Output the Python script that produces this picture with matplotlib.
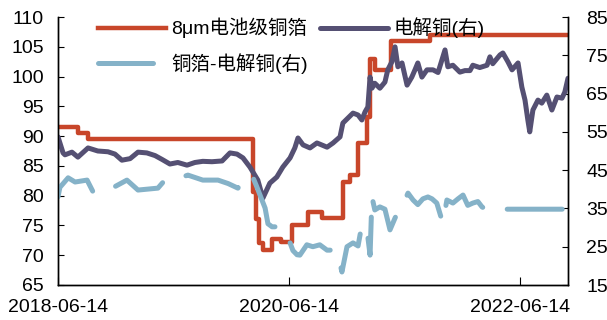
import matplotlib
matplotlib.use("Agg")
import matplotlib.pyplot as plt
import matplotlib.dates as mdates
import pandas as pd

plt.rcParams['font.family'] = ['Liberation Sans', 'Noto Sans CJK SC', 'DejaVu Sans']
plt.rcParams['font.size'] = 14

# 8um battery copper foil (left axis), step series
foil_dates = ["2018-06-14", "2018-08-16", "2018-09-17", "2020-02-21", "2020-03-01",
              "2020-03-11", "2020-03-23", "2020-04-21", "2020-05-19", "2020-06-23",
              "2020-08-12", "2020-09-26", "2020-12-01", "2020-12-23", "2021-01-18",
              "2021-02-15", "2021-02-25", "2021-03-12", "2021-05-02", "2021-09-02",
              "2022-11-13"]
foil_vals = [91.5, 90.5, 89.5, 80.6, 76.0,
             72.0, 70.8, 72.8, 72.2, 75.0,
             77.2, 76.3, 82.3, 83.5, 88.9,
             93.2, 103.0, 101.1, 106.0, 107.0,
             107.0]

# electrolytic copper (right axis)
cu_dates = ["2018-06-14", "2018-06-30", "2018-07-06", "2018-07-28", "2018-08-16",
            "2018-09-17", "2018-10-18", "2018-11-19", "2018-12-11", "2019-01-02",
            "2019-01-28", "2019-02-22", "2019-03-22", "2019-04-17", "2019-05-09",
            "2019-06-03", "2019-06-28", "2019-07-27", "2019-08-21", "2019-09-15",
            "2019-10-14", "2019-11-15", "2019-12-10", "2020-01-01", "2020-01-20",
            "2020-02-11", "2020-03-07", "2020-03-23", "2020-04-14", "2020-05-06",
            "2020-05-25", "2020-06-17", "2020-07-02", "2020-07-12", "2020-07-28",
            "2020-08-19", "2020-09-10", "2020-10-12", "2020-10-31", "2020-11-22",
            "2020-12-01", "2020-12-17", "2021-01-02", "2021-01-18", "2021-01-30",
            "2021-02-09", "2021-02-18", "2021-02-25", "2021-03-03", "2021-03-12",
            "2021-03-28", "2021-04-13", "2021-04-22", "2021-05-05", "2021-05-15",
            "2021-05-24", "2021-06-06", "2021-06-22", "2021-07-07", "2021-07-17",
            "2021-07-26", "2021-08-08", "2021-08-24", "2021-09-12", "2021-09-28",
            "2021-10-20", "2021-10-29", "2021-11-14", "2021-12-06", "2021-12-22",
            "2022-01-07", "2022-01-16", "2022-02-07", "2022-03-02", "2022-03-11",
            "2022-03-20", "2022-04-12", "2022-04-21", "2022-05-07", "2022-05-20",
            "2022-06-08", "2022-06-20", "2022-06-30", "2022-07-09", "2022-07-15",
            "2022-07-25", "2022-08-10", "2022-08-22", "2022-09-07", "2022-09-23",
            "2022-10-09", "2022-10-25", "2022-11-03", "2022-11-13"]
cu_vals = [53.7, 49.5, 49.0, 49.7, 48.4,
           50.8, 50.0, 49.8, 49.2, 47.6,
           48.0, 49.7, 49.5, 48.8, 47.8,
           46.6, 47.0, 46.3, 47.0, 47.3,
           47.2, 47.4, 49.5, 49.2, 48.2,
           45.8, 42.4, 37.7, 41.6, 43.2,
           45.8, 48.2, 50.8, 53.4, 51.6,
           50.8, 52.1, 51.0, 52.1, 53.7,
           57.3, 58.6, 59.9, 59.4, 58.1,
           60.2, 61.5, 69.3, 66.4, 67.7,
           66.4, 68.0, 71.2, 73.3, 77.2,
           72.0, 73.0, 67.2, 69.3, 71.2,
           73.0, 69.3, 71.2, 71.2, 70.5,
           76.4, 72.0, 72.4, 70.6, 71.0,
           71.0, 72.4, 71.8, 72.4, 74.6,
           72.8, 75.1, 75.6, 73.3, 71.2,
           73.0, 66.7, 63.3, 58.1, 55.0,
           60.7, 63.3, 62.5, 64.6, 60.7,
           64.1, 63.8, 65.4, 69.0]

# foil minus copper spread (right axis)
spread_dates = ["2018-06-14", "2018-06-20", "2018-07-16", "2018-08-07", "2018-09-14",
                "2018-10-03", "2018-11-10", "2018-12-02", "2019-01-18", "2019-02-22",
                "2019-04-26", "2019-05-18", "2019-07-11", "2019-07-30", "2019-09-15",
                "2019-11-02", "2019-12-04", "2020-01-04", "2020-02-02", "2020-02-21",
                "2020-03-04", "2020-03-20", "2020-03-30", "2020-04-08", "2020-04-21",
                "2020-05-22", "2020-06-01", "2020-06-17", "2020-06-26", "2020-07-09",
                "2020-07-18", "2020-08-09", "2020-08-28", "2020-09-19", "2020-10-12",
                "2020-11-12", "2020-11-28", "2020-12-14", "2021-01-02", "2021-01-18",
                "2021-01-30", "2021-02-15", "2021-02-25", "2021-03-03", "2021-03-12",
                "2021-03-28", "2021-04-13", "2021-04-29", "2021-05-15", "2021-05-30",
                "2021-06-15", "2021-06-25", "2021-07-11", "2021-07-26", "2021-08-11",
                "2021-08-27", "2021-09-09", "2021-09-24", "2021-10-13", "2021-10-26",
                "2021-11-14", "2021-11-30", "2021-12-16", "2021-12-31", "2022-01-16",
                "2022-02-01", "2022-02-14", "2022-02-26", "2022-11-13"]
spread_vals = [38.0, 40.5, 43.0, 41.9, 42.4,
               39.3, 40.6, 40.3, 42.4, 39.8,
               40.3, 42.4, 43.2, 43.7, 42.4,
               42.4, 41.5, 40.3, 44.0, 43.0,
               40.6, 37.2, 35.1, 31.0, 30.2,
               30.2, 28.6, 26.0, 24.0, 22.9,
               22.8, 25.5, 25.0, 25.5, 24.1,
               24.1, 18.4, 25.0, 26.0, 25.2,
               30.7, 29.5, 22.8, 38.0, 34.6,
               35.4, 34.8, 29.4, 32.5, 35.1,
               37.2, 39.0, 37.2, 36.0, 37.5,
               38.0, 37.5, 36.4, 31.2, 37.2,
               36.4, 37.5, 38.5, 35.8, 36.4,
               36.8, 35.4, 34.8, 34.8]

x_ticks = ["2018-06-14", "2020-06-14", "2022-06-14"]

c_foil = "#C8462A"
c_cu = "#555073"
c_spread = "#85B2C8"

fig = plt.figure(figsize=(6.07, 3.2), dpi=100)
ax = fig.add_axes([58 / 607, 1 - 285 / 320, 510 / 607, 268 / 320])
ax2 = ax.twinx()

l1, = ax.plot(pd.to_datetime(foil_dates), foil_vals, drawstyle="steps-post",
              color=c_foil, lw=3.2, label="8μm电池级铜箔")
l2, = ax2.plot(pd.to_datetime(cu_dates), cu_vals, color=c_cu, lw=3.6,
               solid_joinstyle="round", solid_capstyle="round", label="电解铜(右)")
l3, = ax2.plot(pd.to_datetime(spread_dates), spread_vals, color=c_spread, lw=3.6,
               dashes=(11, 5), dash_capstyle="round", dash_joinstyle="round",
               label="铜箔-电解铜(右)")

ax.set_xlim(pd.Timestamp("2018-06-14"), pd.Timestamp("2022-11-13"))
ax.set_ylim(65, 110)
ax.set_yticks(range(65, 111, 5))
ax2.set_ylim(15, 85)
ax2.set_yticks(range(15, 86, 10))
ax.set_xticks(pd.to_datetime(x_ticks))
ax.xaxis.set_major_formatter(mdates.DateFormatter("%Y-%m-%d"))

for a in (ax, ax2):
    a.spines["top"].set_visible(False)
    for s in a.spines.values():
        s.set_linewidth(1)
ax.tick_params(axis="y", direction="in", length=4, pad=10)
ax2.tick_params(axis="y", direction="in", length=4, pad=13)
ax.tick_params(axis="x", direction="in", length=6, pad=10)

leg = ax2.legend(handles=[l1, l3, l2], ncol=2, frameon=False,
                 loc="upper left", bbox_to_anchor=(88 / 607, 1 - 8 / 320),
                 bbox_transform=fig.transFigure, borderpad=0,
                 handlelength=3.5, handletextpad=0.3, columnspacing=0.6,
                 labelspacing=0.75)

fig.savefig("out.png", dpi=100)
